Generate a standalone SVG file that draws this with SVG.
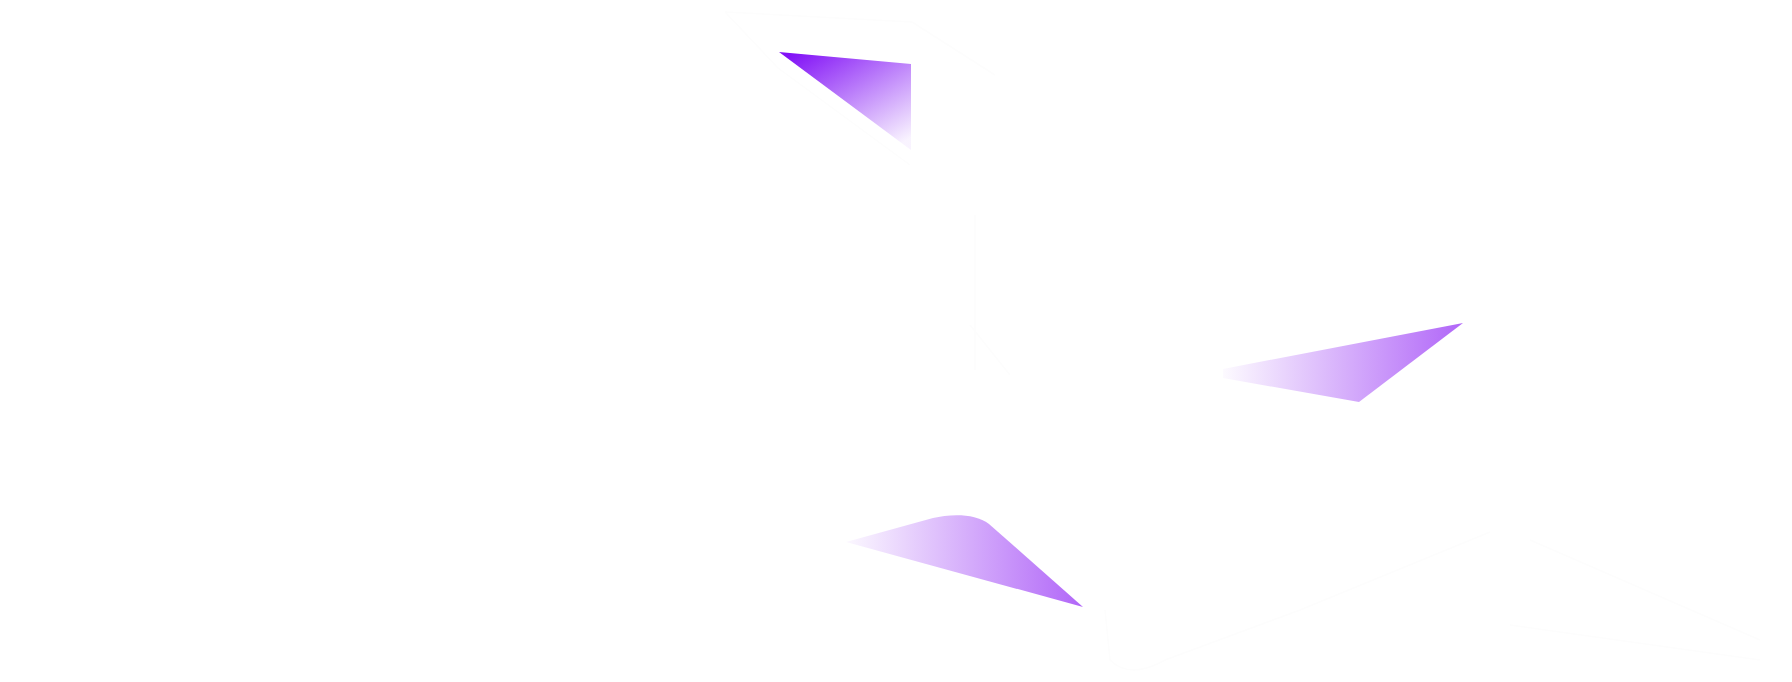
<svg xmlns="http://www.w3.org/2000/svg" width="1792" height="682" viewBox="0 0 1792 682">
<style>
.faint{fill:none;stroke:#fdfdfd;stroke-width:1.5;stroke-linejoin:round}
</style>
<defs>
<linearGradient id="g1" gradientUnits="userSpaceOnUse" x1="812" y1="42" x2="880" y2="156">
<stop offset="0" stop-color="#8212f6"/>
<stop offset="1" stop-color="#8212f6" stop-opacity="0.05"/>
</linearGradient>
<linearGradient id="g2" gradientUnits="userSpaceOnUse" x1="1490" y1="360" x2="1215" y2="360">
<stop offset="0" stop-color="#a855f7"/>
<stop offset="1" stop-color="#a855f7" stop-opacity="0"/>
</linearGradient>
<linearGradient id="g3" gradientUnits="userSpaceOnUse" x1="1110" y1="560" x2="835" y2="560">
<stop offset="0" stop-color="#a855f7"/>
<stop offset="1" stop-color="#a855f7" stop-opacity="0"/>
</linearGradient>
</defs>
<rect width="1792" height="682" fill="#ffffff"/>
<g id="faint-outlines">
<path class="faint" d="M725 12L912 22L995 75M725 12L778 68L910 165M975 215V370M970 325L1010 375M1490 532L1300 610L1165 660Q1130 680 1110 660L1105 610M1530 540L1760 640M1510 625L1760 660"/>
</g>
<g id="shard-top"><path d="M779 52L911 64V150Z" fill="url(#g1)"/></g>
<g id="shard-right"><path d="M1463 323L1359 402L1223 378V369Z" fill="url(#g2)"/></g>
<g id="shard-bottom"><path d="M846 542L933 518C950 514 975 513 989 524L1083 607Z" fill="url(#g3)"/></g>
</svg>
